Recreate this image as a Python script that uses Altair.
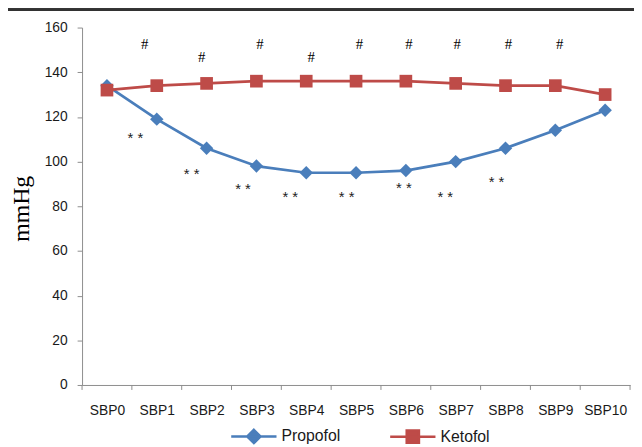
import json
import altair as alt
import pandas as pd

categories = ["SBP0", "SBP1", "SBP2", "SBP3", "SBP4", "SBP5", "SBP6", "SBP7", "SBP8", "SBP9", "SBP10"]
propofol = [134, 119, 106, 98, 95, 95, 96, 100, 106, 114, 123]
ketofol = [132, 134, 135, 136, 136, 136, 136, 135, 134, 134, 130]
series_names = ["Propofol", "Ketofol"]
series_colors = ["#4A7EBB", "#BE4B48"]
series_shapes = ["diamond", "square"]
series_sizes = [185, 165]

# "#" marks (x in category units, y in mmHg)
hash_pos = [0.76, 1.90, 3.07, 4.10, 5.07, 6.06, 7.03, 8.06, 9.09]
hash_val = [152.5, 146.7, 152.5, 146.7, 152.5, 152.5, 152.5, 152.5, 152.5]
# "**" marks
star_pos = [0.57, 1.70, 2.73, 3.68, 4.81, 5.96, 6.79, 7.82]
star_val = [112.3, 96.4, 89.3, 85.7, 85.7, 89.7, 85.7, 92.8]
y_ticks = [0, 20, 40, 60, 80, 100, 120, 140, 160]

idx = list(range(len(categories)))
boundaries = [i - 0.5 for i in range(len(categories) + 1)]

df = pd.DataFrame({
    "i": idx * 2,
    "drug": [series_names[0]] * len(idx) + [series_names[1]] * len(idx),
    "v": propofol + ketofol,
})
hash_df = pd.DataFrame({"x": hash_pos, "y": hash_val, "t": ["#"] * len(hash_pos)})
star_df = pd.DataFrame({"x": star_pos, "y": star_val, "t": ["* *"] * len(star_pos)})
bound_df = pd.DataFrame({"b": boundaries})

W, H = 555, 362
AX = "#8C8C8C"
SANS = "Liberation Sans"

x_scale = alt.Scale(domain=[-0.5, len(categories) - 0.5], nice=False, zero=False)
y_scale = alt.Scale(domain=[0, 160], nice=False)

x_axis = alt.Axis(values=idx, labelExpr=f"{json.dumps(categories)}[datum.value]",
                  ticks=False, grid=False, title=None, domainColor=AX, domainWidth=1,
                  labelFont=SANS, labelFontSize=14, labelColor="#1a1a1a", labelPadding=19)
y_axis = alt.Axis(values=y_ticks, grid=False, title="mmHg", titleFont="Liberation Serif",
                  titleFontSize=24, titleFontWeight="normal", titleColor="#000000",
                  titleX=-54, titleY=H / 2 + 2, titleAlign="center", titleBaseline="alphabetic",
                  titleAngle=-90, labelFont=SANS, labelFontSize=14, labelColor="#1a1a1a",
                  labelPadding=10, tickSize=5, tickColor=AX, domainColor=AX)

base = alt.Chart(df)
X = alt.X("i:Q", scale=x_scale, axis=x_axis)
Y = alt.Y("v:Q", scale=y_scale, axis=y_axis)

layers = []
for name, col, shp, sz in zip(series_names, series_colors, series_shapes, series_sizes):
    sub = base.transform_filter(alt.datum.drug == name)
    layers.append(sub.mark_line(color=col, strokeWidth=2.75).encode(x=X, y=Y))
    layers.append(sub.mark_point(filled=True, color=col, shape=shp, size=sz, opacity=1).encode(x=X, y=Y))

leg_paths = ["M-3.4,0H3.4M0,-1L1,0L0,1L-1,0Z", "M-3.4,0H3.4M-0.92,-0.92H0.92V0.92H-0.92Z"]
leg = alt.Legend(title=None, orient="none", legendX=166, legendY=406, direction="horizontal",
                 symbolSize=182, symbolStrokeWidth=2.5, labelFont=SANS, labelFontSize=16,
                 labelColor="#1a1a1a", labelOffset=20, columnPadding=45)
legend_layer = base.transform_filter("false").mark_point(filled=True, opacity=1, strokeWidth=2.5).encode(
    x=X, y=Y,
    color=alt.Color("drug:N", scale=alt.Scale(domain=series_names, range=series_colors), legend=leg),
    stroke=alt.Stroke("drug:N", scale=alt.Scale(domain=series_names, range=series_colors), legend=leg),
    shape=alt.Shape("drug:N", scale=alt.Scale(domain=series_names, range=leg_paths), legend=leg),
)

ticks_layer = alt.Chart(bound_df).mark_rule(color=AX, strokeWidth=1).encode(
    x=alt.X("b:Q", scale=x_scale), y=alt.value(H), y2=alt.value(H + 5))

hash_layer = alt.Chart(hash_df).mark_text(font="Liberation Serif", fontSize=15, color="#000000",
                                          baseline="middle").encode(
    x=alt.X("x:Q", scale=x_scale), y=alt.Y("y:Q", scale=y_scale), text="t:N")
star_layer = alt.Chart(star_df).mark_text(font=SANS, fontSize=15, color="#222222",
                                          baseline="middle", dy=4).encode(
    x=alt.X("x:Q", scale=x_scale), y=alt.Y("y:Q", scale=y_scale), text="t:N")

top_line = alt.Chart(bound_df).mark_rule(color="#333333", strokeWidth=2).encode(
    x=alt.value(-75), x2=alt.value(W + 4), y=alt.value(-18))

chart = alt.layer(ticks_layer, *layers, legend_layer, hash_layer, star_layer, top_line).properties(
    width=W, height=H,
    autosize=alt.AutoSizeParams(type="none"),
    padding={"left": 75, "top": 17, "right": 4, "bottom": 60},
    background="white",
).configure_view(stroke=None)

chart.save("out.html", embed_options={"renderer": "svg", "actions": False})
